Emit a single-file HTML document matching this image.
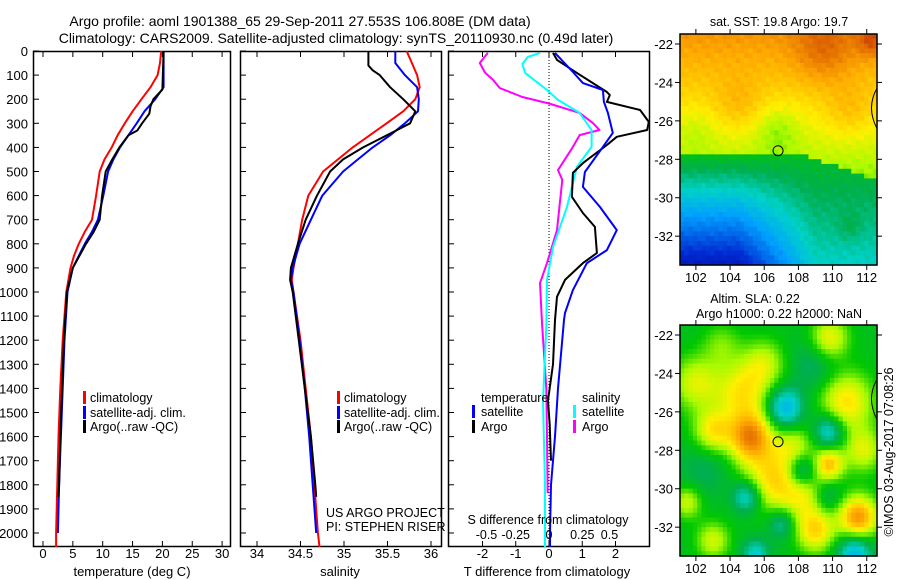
<!DOCTYPE html>
<html><head><meta charset="utf-8"><style>
html,body{margin:0;padding:0;background:#fff;}
svg{display:block;font-family:"Liberation Sans",sans-serif;}
text{fill:#000;}
</style></head><body>
<svg id="chart" width="900" height="580" viewBox="0 0 900 580" xmlns="http://www.w3.org/2000/svg">
<text x="300" y="26" font-size="14" text-anchor="middle">Argo profile: aoml 1901388_65 29-Sep-2011 27.553S 106.808E (DM data)</text>
<text x="336" y="43" font-size="14" text-anchor="middle">Climatology: CARS2009. Satellite-adjusted climatology: synTS_20110930.nc (0.49d later)</text>
<g id="layer"></g>
</svg>
<script>
// ---------- data ----------
const depthTicks=[0,100,200,300,400,500,600,700,800,900,1000,1100,1200,1300,1400,1500,1600,1700,1800,1900,2000];
const tempTicks=[0,5,10,15,20,25,30];
const salTicks=[34,34.5,35,35.5,36];
const salTickLabels=["34","34.5","35","35.5","36"];
const tdTicks=[-2,-1,0,1,2];
const sdTicks=[-0.5,-0.25,0,0.25,0.5];

const tClimDepth=[0,50,100,150,200,250,300,350,400,450,500,600,700,750,800,850,900,1000,1200,1400,1600,1800,2000,2060];
const tClimVal=[19.8,19.6,19.2,18.0,16.5,15.0,13.7,12.5,11.5,10.3,9.5,8.9,8.2,7.0,6.0,5.2,4.6,3.9,3.3,2.9,2.6,2.4,2.2,2.2];
const tSatDepth=[0,150,200,250,300,350,400,450,500,600,700,750,800,850,900,1000,1200,1400,1600,1800,2000];
const tSatVal=[20.2,20.2,18.8,17.0,15.7,14.3,12.9,11.8,10.9,10.1,9.2,8.2,7.0,6.0,5.0,4.1,3.6,3.3,3.0,2.7,2.5];
const tArgoDepth=[0,160,200,230,260,300,330,350,400,450,500,600,700,750,800,900,1000,1200,1400,1600,1800,1850];
const tArgoVal=[20.2,20.0,18.5,18.0,17.8,16.6,15.8,14.3,12.8,11.6,10.5,9.9,9.5,8.5,7.2,5.0,4.0,3.5,3.2,2.9,2.7,2.6];

const sClimDepth=[0,50,100,150,200,250,300,400,500,600,700,800,900,950,1000,1100,1200,1400,1600,1800,2000,2060];
const sClimVal=[35.72,35.78,35.84,35.87,35.82,35.68,35.49,35.1,34.76,34.59,34.52,34.47,34.42,34.4,34.42,34.46,34.5,34.56,34.62,34.66,34.7,34.72];
const sSatDepth=[0,50,100,150,200,250,300,350,400,450,500,600,700,800,900,950,1000,1200,1400,1600,1800,2000];
const sSatVal=[35.59,35.59,35.7,35.84,35.86,35.85,35.7,35.53,35.33,35.16,34.99,34.75,34.62,34.49,34.41,34.39,34.42,34.49,34.55,34.6,34.64,34.68];
const sArgoDepth=[0,60,80,100,150,200,250,300,330,400,450,500,600,700,800,900,950,1000,1200,1400,1600,1800,1850];
const sArgoVal=[35.28,35.28,35.33,35.41,35.53,35.68,35.82,35.76,35.6,35.22,34.99,34.84,34.69,34.56,34.47,34.39,34.38,34.41,34.48,34.55,34.62,34.67,34.68];

const dtSatDepth=[8,87,133,162,211,257,340,398,502,564,647,743,826,880,992,1087,1116,1400,1600,1800,2000,2060];
const dtSatVal=[0.18,0.72,1.02,1.62,1.65,1.77,1.92,1.62,1.08,1.02,1.53,2.04,1.74,1.14,0.72,0.48,0.45,0.27,0.18,0.06,0.03,0.03];
const dtArgoDepth=[8,37,91,170,183,211,245,294,328,356,390,465,506,605,672,730,838,880,950,1020,1116,1300,1450,1550,1700];
const dtArgoVal=[0.12,0.24,0.84,1.74,1.83,1.74,2.74,3.0,2.95,2.04,1.74,1.02,0.72,0.69,1.02,1.38,1.44,1.02,0.48,0.24,0.18,0.12,-0.03,0.02,0.06];
const dsSatDepth=[8,25,54,91,162,203,257,328,398,481,647,813,950,1145,1450,1800,2060];
const dsSatVal=[-0.068,-0.16,-0.2,-0.18,-0.015,0.068,0.23,0.32,0.32,0.21,0.135,0.03,-0.015,-0.02,-0.045,-0.03,-0.03];
const dsArgoDepth=[8,50,91,120,154,191,218,257,299,328,349,398,494,535,743,880,963,1129,1400,1600,1835];
const dsArgoVal=[-0.46,-0.52,-0.48,-0.42,-0.37,-0.2,0.0,0.23,0.33,0.38,0.23,0.18,0.068,0.1,0.06,-0.015,-0.068,-0.053,-0.02,-0.015,-0.01];

const lonTicks=[102,104,106,108,110,112];
const latTicks=[-22,-24,-26,-28,-30,-32];
const argoLon=106.808, argoLat=-27.553;

// ---------- helpers ----------
const NS="http://www.w3.org/2000/svg";
const layer=document.getElementById('layer');
function mk(tag,attrs,parent){const e=document.createElementNS(NS,tag);for(const k in attrs)e.setAttribute(k,attrs[k]);(parent||layer).appendChild(e);return e;}
const PT=51,PB=547;
const yDepth=d=>PT+d*0.241;
const xTemp=v=>43+v*5.97;
const xSal=v=>257+(v-34)*87;
const xTd=v=>549+v*33.25;
const xSd=v=>549+v*133;

function panel(name,x0,x1,id){
  const cp=mk('clipPath',{id:id});
  mk('rect',{x:x0,y:PT,width:x1-x0,height:PB-PT},cp);
  const r=mk('rect',{x:x0+0.5,y:PT+0.5,width:x1-x0-1,height:PB-PT-1,fill:'none',stroke:'#000','stroke-width':1.5});
  
  
  for(const d of depthTicks){
    const t=mk('line',{x1:x0,x2:x0+6,y1:yDepth(d),y2:yDepth(d),stroke:'#000'});
    
    
  }
}
function xticks(vals,fx,x0,labels,ly,size){
  vals.forEach((v,i)=>{
    const x=fx(v);
    const a=mk('line',{x1:x,x2:x,y1:PT,y2:PT+6,stroke:'#000'});
    
    
    const b=mk('line',{x1:x,x2:x,y1:PB-6,y2:PB,stroke:'#000'});
    
    
    if(labels){
      const t=mk('text',{x:x,y:ly,'font-size':size||13,'text-anchor':'middle'});
      t.textContent=labels[i];
      
      
    }
  });
}
function series(name,depths,vals,fx,color,clip,w){
  const pts=depths.map((d,i)=>fx(vals[i]).toFixed(1)+','+yDepth(d).toFixed(1)).join(' ');
  const p=mk('polyline',{points:pts,fill:'none',stroke:color,'stroke-width':w||2,'clip-path':'url(#'+clip+')','stroke-linejoin':'round'});
  
  
}
function txt(name,x,y,s,size,anchor){
  const t=mk('text',{x:x,y:y,'font-size':size||12,'text-anchor':anchor||'start'});
  t.textContent=s;
  
  
  return t;
}
function legBar(name,x,y,color){
  const r=mk('rect',{x:x,y:y-11,width:3,height:13,fill:color});
  
  
}

for(const d of depthTicks){txt('depth-label',28,yDepth(d)+5,String(d),13,'end');}

// panel 1
panel('temperature-panel',33,231,'c1');
xticks(tempTicks,xTemp,33,tempTicks.map(String),558,13);
series('temp-climatology-line',tClimDepth,tClimVal,xTemp,'#f00','c1');
series('temp-satellite-line',tSatDepth,tSatVal,xTemp,'#00f','c1');
series('temp-argo-line',tArgoDepth,tArgoVal,xTemp,'#000','c1');
txt('temperature-axis-title',132,576,'temperature (deg C)',13,'middle');
legBar('legend-climatology-swatch',83,402,'#f00');txt('legend-climatology',90,402,'climatology',12.5);
legBar('legend-satellite-swatch',83,417,'#00f');txt('legend-satellite',90,417,'satellite-adj. clim.',12.5);
legBar('legend-argo-swatch',83,431,'#000');txt('legend-argo',90,431,'Argo(..raw -QC)',12.5);

// panel 2
panel('salinity-panel',240,442,'c2');
xticks(salTicks,xSal,240,salTickLabels,558,13);
series('sal-climatology-line',sClimDepth,sClimVal,xSal,'#f00','c2');
series('sal-satellite-line',sSatDepth,sSatVal,xSal,'#00f','c2');
series('sal-argo-line',sArgoDepth,sArgoVal,xSal,'#000','c2');
txt('salinity-axis-title',340,576,'salinity',13,'middle');
legBar('legend2-climatology-swatch',337,402,'#f00');txt('legend2-climatology',344,402,'climatology',12.5);
legBar('legend2-satellite-swatch',337,417,'#00f');txt('legend2-satellite',344,417,'satellite-adj. clim.',12.5);
legBar('legend2-argo-swatch',337,431,'#000');txt('legend2-argo',344,431,'Argo(..raw -QC)',12.5);
txt('project-label',326,517,'US ARGO PROJECT',12.5);
txt('pi-label',326,531,'PI: STEPHEN RISER',12.5);

// panel 3
panel('difference-panel',448,650,'c3');
xticks(tdTicks,xTd,448,tdTicks.map(String),558,13);
const dl=mk('line',{x1:549,x2:549,y1:PT,y2:PB,stroke:'#000','stroke-dasharray':'1,2'});


series('sdiff-argo-line',dsArgoDepth,dsArgoVal,xSd,'#f0f','c3');
series('sdiff-satellite-line',dsSatDepth,dsSatVal,xSd,'#0ff','c3');
series('tdiff-argo-line',dtArgoDepth,dtArgoVal,xTd,'#000','c3');
series('tdiff-satellite-line',dtSatDepth,dtSatVal,xTd,'#00f','c3');
txt('tdiff-axis-title',547,576,'T difference from climatology',13,'middle');
txt('sdiff-axis-title',548,524,'S difference from climatology',12.5,'middle');
sdTicks.forEach(v=>txt('sdiff-tick-label',xSd(v)-(v===0.5?6:v===-0.5?-4:0),539,String(v),12.5,'middle'));
txt('legend3-temperature-header',481,402,'temperature',12.5);
legBar('legend3-tsat-swatch',472,416,'#00f');txt('legend3-tsat',481,416,'satellite',12.5);
legBar('legend3-targo-swatch',472,431,'#000');txt('legend3-targo',481,431,'Argo',12.5);
txt('legend3-salinity-header',582,402,'salinity',12.5);
legBar('legend3-ssat-swatch',573,416,'#0ff');txt('legend3-ssat',582,416,'satellite',12.5);
legBar('legend3-sargo-swatch',573,431,'#f0f');txt('legend3-sargo',582,431,'Argo',12.5);

// ---------- maps ----------
const stops=[[0,[0,0,130]],[0.15,[0,40,210]],[0.3,[0,160,255]],[0.4,[0,210,200]],[0.48,[0,175,80]],[0.56,[0,200,0]],[0.64,[170,250,0]],[0.71,[255,240,0]],[0.8,[255,170,0]],[0.9,[220,95,0]],[1,[170,0,0]]];
function cmap(v){v=Math.max(0,Math.min(1,v));for(let i=1;i<stops.length;i++){if(v<=stops[i][0]){const a=stops[i-1],b=stops[i];const t=(v-a[0])/(b[0]-a[0]);return 'rgb('+a[1].map((c,k)=>Math.round(c+(b[1][k]-c)*t)).join(',')+')';}}return 'rgb(170,0,0)';}
const g=(x,y,cx,cy,s)=>Math.exp(-((x-cx)*(x-cx)+(y-cy)*(y-cy))/(2*s*s));
function sst(lon,lat,i,j){
  const jit=0.015*Math.sin(i*1.7+j*0.9)*Math.cos(j*2.3-i*0.4);
  const latB=-27.7-Math.max(0,lon-108)*0.3;
  let v;
  if(lat>latB){v=0.66+(lat+27.7)*0.027-0.06*g(lon,lat,106.8,-26.5,0.9)-0.03*g(lon,lat,102,-26.5,0.8)+0.08*g(lon,lat,109.5,-22.3,1.2)+0.1*g(lon,lat,112.3,-21.8,0.6)+0.05*g(lon,lat,104.5,-25.2,1)+0.05*g(lon,lat,111,-25.5,1);}
  else{const k=lon<104.5?0.075:lon>109?0.022:0.075-(lon-104.5)*0.0118;v=0.52+(lat+28)*k+0.04*g(lon,lat,111,-31.5,0.5);}
  return v+jit;
}
const sla=[[105.2,-27.3,0.3,0.9],[111.5,-31.5,0.3,0.8],[109.8,-28.7,0.22,0.6],[103,-27,0.18,0.8],[109,-32.2,0.2,0.8],[104.7,-25,0.18,1.1],[110.8,-25.5,0.2,1.1],[109.8,-22.2,0.18,0.8],[106.5,-29.5,0.2,1.2],[108.5,-30.2,0.16,1.0],[102,-24.5,0.15,1.0],[101.5,-30.7,0.14,0.6],[103,-32.7,0.14,0.7],[106,-23.5,0.13,0.9],[111.8,-28,0.15,0.8],[107.8,-27.8,0.12,0.8],[103.5,-22.5,0.08,0.8],
[107.2,-25.8,-0.2,0.75],[109.8,-27,-0.18,0.65],[108.2,-29.1,-0.2,0.65],[105,-30.4,-0.18,0.6],[109.6,-30.4,-0.12,0.65],[111.3,-33.3,-0.2,0.7],[105.5,-33.4,-0.14,0.55],[107,-31.8,-0.12,0.55],[109,-23.5,-0.08,1],[102.5,-29,-0.06,1]];
function slaf(lon,lat){let v=0.53;for(const b of sla)v+=b[2]*g(lon,lat,b[0],b[1],b[3]);return v;}

function map(name,y0,field){
  const x0=680,x1=877,h=231;
  const lonA=101.07,lonB=112.6,latA=-21.48,latB=-33.5;
  const X=lon=>x0+(lon-lonA)*(x1-x0)/(lonB-lonA);
  const Y=lat=>y0+(latA-lat)*h/(latA-latB);
  const grp=mk('g',{});
  
  
  const nx=46,ny=48,cw=(x1-x0)/nx,ch=h/ny;
  for(let i=0;i<nx;i++)for(let j=0;j<ny;j++){
    const lon=lonA+(i+0.5)*(lonB-lonA)/nx,lat=latA-(j+0.5)*(latA-latB)/ny;
    mk('rect',{x:(x0+i*cw).toFixed(2),y:(y0+j*ch).toFixed(2),width:(cw+0.6).toFixed(2),height:(ch+0.6).toFixed(2),fill:cmap(field(lon,lat,i,j))},grp);
  }
  const coast=mk('path',{d:`M${x1} ${Y(-24.3)} Q${x1-11} ${Y(-25.3)} ${x1} ${Y(-26.4)}`,fill:'none',stroke:'#000','stroke-width':1});
  
  
  const fr=mk('rect',{x:x0,y:y0,width:x1-x0,height:h,fill:'none',stroke:'#000','stroke-width':1.5});
  
  
  for(const lo of lonTicks){
    const t=mk('line',{x1:X(lo),x2:X(lo),y1:y0-5,y2:y0,stroke:'#000'});
    
    
    const b=mk('line',{x1:X(lo),x2:X(lo),y1:y0+h,y2:y0+h+5,stroke:'#000'});
    
    
    txt('lon-label',X(lo),y0+h+17,String(lo),13,'middle');
  }
  for(const la of latTicks){
    const t=mk('line',{x1:x0-5,x2:x0,y1:Y(la),y2:Y(la),stroke:'#000'});
    
    
    const r=mk('line',{x1:x1,x2:x1+5,y1:Y(la),y2:Y(la),stroke:'#000'});
    
    
    txt('lat-label',673,Y(la)+5,String(la),13,'end');
  }
  const c=mk('circle',{cx:X(argoLon),cy:Y(argoLat),r:5,fill:'none',stroke:'#000','stroke-width':1});
  
  
}
map('sst-map',34,sst);
txt('sst-map-title',779,26,'sat. SST: 19.8 Argo: 19.7',12.5,'middle');
map('sla-map',325,(lo,la)=>slaf(lo,la));
txt('sla-map-title-1',755,303,'Altim. SLA: 0.22',12.5,'middle');
txt('sla-map-title-2',779,318,'Argo h1000: 0.22 h2000: NaN',12.5,'middle');
const cr=txt('imos-credit',0,0,'©IMOS 03-Aug-2017 07:08:26',12.5,'middle');
cr.setAttribute('transform','translate(893,452) rotate(-90)');
</script>
</body></html>
